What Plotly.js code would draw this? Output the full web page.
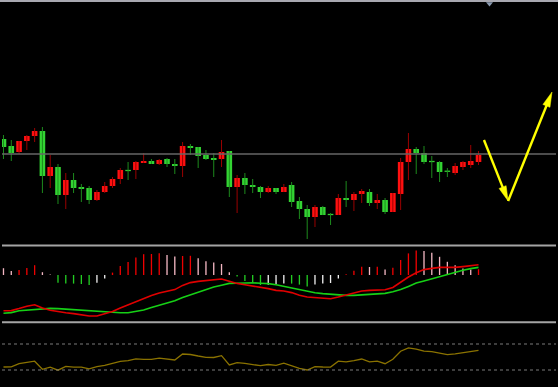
<!DOCTYPE html>
<html><head><meta charset="utf-8">
<script src="https://cdn.plot.ly/plotly-3.0.1.min.js"></script>
<style>html,body{margin:0;padding:0;background:#000;overflow:hidden}#chart{width:558px;height:387px}</style>
</head><body><div id="chart"></div>
<script>
// Candles (price units)
const openP = [16.1,15.4,14.8,15.9,16.4,16.9,12.4,13.3,10.5,12.0,
  11.3,11.2,10.0,10.8,11.4,12.1,13.0,13.0,13.7,13.9,
  13.6,14.1,13.6,13.4,15.4,15.3,14.5,14.2,14.1,14.9,
  11.3,12.2,11.5,11.3,10.8,11.2,10.8,11.5,9.9,9.1,
  8.3,9.3,8.6,8.5,10.2,10.0,10.6,10.8,9.7,10.0,
  8.8,10.6,13.8,15.1,14.7,13.9,13.8,12.9,12.7,13.3,
  13.5,13.8];
const closeP = [15.3,14.7,15.9,16.4,16.9,12.4,13.3,10.5,12.0,11.2,
  11.1,10.0,10.8,11.4,12.1,13.0,12.9,13.8,13.9,13.6,
  14.0,13.6,13.4,15.4,15.2,14.4,14.1,14.0,14.8,11.3,
  12.2,11.5,11.3,10.8,11.2,10.8,11.3,9.8,9.1,8.3,
  9.3,8.5,8.5,10.2,10.0,10.6,10.9,9.7,10.0,8.8,
  10.7,13.8,15.1,14.7,13.8,13.8,12.8,12.85,13.4,13.8,
  13.9,14.5];
const highP = [16.5,16.0,15.9,16.5,17.2,17.3,14.5,13.6,12.7,12.7,
  11.6,11.4,11.0,11.8,12.3,13.2,13.8,13.9,14.7,14.1,
  14.1,14.2,14.1,15.8,15.6,15.3,15.0,14.7,16.0,14.9,
  12.5,12.7,12.1,11.4,11.4,11.2,11.6,11.8,10.3,9.5,
  9.5,9.4,8.7,10.6,11.9,10.8,11.1,11.1,10.6,10.2,
  10.7,14.2,16.7,15.3,15.4,14.4,13.9,13.2,13.7,13.9,
  15.5,14.9];
const lowP = [14.1,13.9,14.6,15.0,15.8,10.7,11.2,9.6,9.1,10.7,
  9.8,9.6,9.9,10.7,11.2,11.6,12.0,12.1,13.7,13.6,
  13.5,13.3,12.6,12.3,14.5,13.2,14.0,12.3,13.3,10.3,
  8.7,10.6,10.7,10.2,10.7,10.6,10.8,9.3,8.1,6.1,
  7.3,8.5,7.5,8.5,9.3,8.9,9.7,9.4,9.1,8.6,
  8.8,9.0,12.0,12.6,13.6,12.2,11.8,12.3,12.5,13.0,
  13.2,13.5];
const refPrice = 14.6;

// MACD panel
const macdHist = [0.34,0.20,0.25,0.35,0.49,0.14,0.02,-0.39,-0.42,-0.43,
  -0.45,-0.50,-0.39,-0.17,0.12,0.45,0.65,0.87,1.04,1.05,
  1.09,1.00,0.92,0.95,0.96,0.84,0.69,0.62,0.55,0.14,
  -0.08,-0.30,-0.39,-0.50,-0.49,-0.47,-0.42,-0.43,-0.48,-0.57,
  -0.47,-0.43,-0.40,-0.18,0.04,0.21,0.41,0.40,0.41,0.28,
  0.36,0.75,1.08,1.22,1.20,1.11,0.91,0.66,0.49,0.33,
  0.28,0.29];
const histKind = ['p','p','r','r','r','p','p','g','g','g',
  'g','g','w','w','r','r','r','r','r','r',
  'r','p','p','r','r','p','p','p','p','p',
  'g','g','g','g','w','w','w','g','g','g',
  'w','w','w','w','r','r','r','p','r','p',
  'r','r','r','r','p','p','p','p','p','p',
  'p','r'];
const dif = [-1.79,-1.78,-1.68,-1.56,-1.49,-1.65,-1.76,-1.84,-1.89,-1.93,
  -1.99,-2.05,-2.05,-1.95,-1.82,-1.65,-1.49,-1.32,-1.16,-1.03,
  -0.90,-0.82,-0.73,-0.52,-0.38,-0.32,-0.29,-0.26,-0.20,-0.31,
  -0.42,-0.49,-0.55,-0.60,-0.68,-0.77,-0.80,-0.88,-1.01,-1.10,
  -1.13,-1.16,-1.19,-1.10,-0.99,-0.89,-0.80,-0.77,-0.75,-0.74,
  -0.62,-0.36,-0.10,0.11,0.27,0.33,0.38,0.38,0.38,0.42,
  0.46,0.51];
const dea = [-1.91,-1.88,-1.79,-1.76,-1.72,-1.69,-1.67,-1.68,-1.71,-1.74,
  -1.77,-1.80,-1.83,-1.86,-1.89,-1.89,-1.89,-1.83,-1.75,-1.63,
  -1.51,-1.42,-1.29,-1.13,-0.99,-0.84,-0.72,-0.60,-0.51,-0.42,
  -0.41,-0.39,-0.39,-0.41,-0.43,-0.49,-0.57,-0.64,-0.73,-0.81,
  -0.89,-0.93,-0.96,-1.00,-1.02,-1.02,-1.00,-0.99,-0.95,-0.92,
  -0.84,-0.73,-0.57,-0.40,-0.30,-0.19,-0.08,0.03,0.14,0.24,
  0.32,0.38];

// Bottom indicator
const osc = [33.0,33.2,36.3,37.7,38.8,30.7,32.8,29.8,33.6,32.9,
  32.9,31.2,33.3,34.6,36.6,38.6,39.3,41.1,40.7,40.6,
  41.8,40.8,40.0,46.0,45.5,44.0,42.7,42.5,44.3,35.1,
  37.4,36.6,35.6,34.3,35.5,34.7,36.8,34.0,31.7,30.0,
  33.4,33.0,32.9,38.8,38.2,39.4,41.0,38.2,38.8,36.3,
  40.7,48.8,52.2,50.8,48.9,48.3,46.5,45.4,46.2,47.4,
  48.3,49.6];
const oscLevels = [56, 30];

// Hand-drawn arrow path (bar index, price)
const arrowPts = [[61.7,16.0],[64.8,9.9],[70.44,20.8]];

const idx = openP.map((_, i) => i);
const UP = '#ff1010', DOWN = '#33d433', UPW = '#9a0000', DOWNW = '#1d8a1d';
const histColors = {r:'#ee0000', p:'#f2b6c2', g:'#22cc22', w:'#eeeeee'};

function wicks(up) {
  const xs = [], ys = [];
  idx.forEach(i => {
    if ((closeP[i] >= openP[i]) === up) { xs.push(i, i, null); ys.push(lowP[i], highP[i], null); }
  });
  return {type:'scatter', mode:'lines', x:xs, y:ys, xaxis:'x', yaxis:'y',
    line:{color: up ? UPW : DOWNW, width:1}, hoverinfo:'skip'};
}
const minBody = 0.13;
const bodyBase = idx.map(i => {
  const lo = Math.min(openP[i], closeP[i]), h = Math.abs(closeP[i]-openP[i]);
  return h < minBody ? (lo + h/2 - minBody/2) : lo;
});
const bodyH = idx.map(i => Math.max(Math.abs(closeP[i]-openP[i]), minBody));
const bodyCol = idx.map(i => closeP[i] >= openP[i] ? UP : DOWN);

const traces = [
  wicks(true), wicks(false),
  {type:'bar', x:idx, y:bodyH, base:bodyBase, width:0.72, xaxis:'x', yaxis:'y',
   marker:{color:bodyCol, line:{width:0}}, hoverinfo:'skip'},
  {type:'bar', x:idx, y:macdHist, width:0.17, xaxis:'x', yaxis:'y2',
   marker:{color:histKind.map(k => histColors[k]), line:{width:0}}, hoverinfo:'skip'},
  {type:'scatter', mode:'lines', x:idx, y:dea, xaxis:'x', yaxis:'y2', line:{color:'#16d016', width:1.6}},
  {type:'scatter', mode:'lines', x:idx, y:dif, xaxis:'x', yaxis:'y2', line:{color:'#e00000', width:1.6}},
  {type:'scatter', mode:'lines', x:idx, y:osc, xaxis:'x', yaxis:'y3', line:{color:'#8a7200', width:1.3}}
];

const H = 387, W = 554, ML = 2;
const py = p => (H - p) / H;
const px = p => (p - ML) / W;
const XR = [-0.19, 70.95], YR = [5.5, 29.8], YPIX = [245, 2];
// data <-> pixel helpers for main panel (used for arrowhead geometry)
const toPx = (x, y) => [ML + (x - XR[0]) / (XR[1] - XR[0]) * W,
                        YPIX[0] - (y - YR[0]) / (YR[1] - YR[0]) * (YPIX[0] - YPIX[1])];
const toData = (X, Y) => [XR[0] + (X - ML) / W * (XR[1] - XR[0]),
                          YR[0] + (YPIX[0] - Y) / (YPIX[0] - YPIX[1]) * (YR[1] - YR[0])];

const sepColor = '#a4a4a4';
const shapes = [
  {type:'line', xref:'paper', yref:'paper', x0:px(0), x1:px(558), y0:py(1), y1:py(1), line:{color:'#a8a8b0', width:2}},
  {type:'line', xref:'paper', yref:'paper', x0:0, x1:1, y0:py(245.4), y1:py(245.4), line:{color:sepColor, width:2}},
  {type:'line', xref:'paper', yref:'paper', x0:0, x1:1, y0:py(322.3), y1:py(322.3), line:{color:sepColor, width:2}},
  {type:'line', xref:'paper', yref:'y', x0:0, x1:1, y0:refPrice, y1:refPrice, line:{color:'#666666', width:1.5}},
  ...oscLevels.map(v => ({type:'line', xref:'paper', yref:'y3', x0:0, x1:1, y0:v, y1:v, line:{color:'#7a7a7a', width:1, dash:'dot'}})),
  {type:'path', xref:'paper', yref:'paper',
   path:`M ${px(486)} ${py(2.2)} L ${px(493)} ${py(2.2)} L ${px(489.5)} ${py(6.5)} Z`,
   fillcolor:'#8a9ab0', line:{width:0}}
];

// yellow arrows: line + narrow filled head
const headLen = 15, headHalf = 3.8, yellow = '#ffff00';
for (let k = 1; k < arrowPts.length; k++) {
  const A = toPx(...arrowPts[k-1]), T = toPx(...arrowPts[k]);
  const dx = T[0]-A[0], dy = T[1]-A[1], len = Math.hypot(dx, dy);
  const ux = dx/len, uy = dy/len, nx = -uy, ny = ux;
  const B = [T[0]-ux*headLen, T[1]-uy*headLen];
  const bD = toData(B[0]+ux*2, B[1]+uy*2);
  shapes.push({type:'line', xref:'x', yref:'y', x0:arrowPts[k-1][0], y0:arrowPts[k-1][1], x1:bD[0], y1:bD[1],
    line:{color:yellow, width:2.4}});
  const p1 = toData(B[0]+nx*headHalf, B[1]+ny*headHalf), p2 = toData(B[0]-nx*headHalf, B[1]-ny*headHalf);
  shapes.push({type:'path', xref:'x', yref:'y',
    path:`M ${arrowPts[k][0]} ${arrowPts[k][1]} L ${p1[0]} ${p1[1]} L ${p2[0]} ${p2[1]} Z`,
    fillcolor:yellow, line:{color:yellow, width:0.5}});
}

const layout = {
  width:558, height:387, margin:{l:ML, r:2, t:0, b:0},
  paper_bgcolor:'#000', plot_bgcolor:'#000', showlegend:false, barmode:'overlay',
  xaxis:{range:XR, visible:false, fixedrange:true},
  yaxis:{domain:[py(YPIX[0]), py(YPIX[1])], range:YR, visible:false, fixedrange:true},
  yaxis2:{domain:[py(321), py(247)], range:[-2.3, 1.4], visible:false, fixedrange:true},
  yaxis3:{domain:[0, py(324)], range:[13, 76], visible:false, fixedrange:true},
  shapes
};
Plotly.newPlot('chart', traces, layout, {displayModeBar:false, staticPlot:true});
</script></body></html>
